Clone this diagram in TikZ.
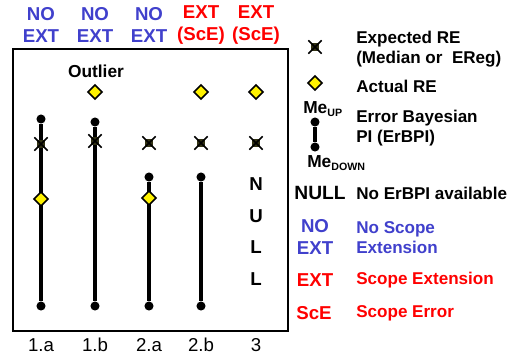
\documentclass[tikz,border=0pt]{standalone}
\usepackage{fontspec}
\setmainfont{Liberation Sans}
\usetikzlibrary{shapes.geometric}
\definecolor{extblue}{RGB}{64,64,204}
\definecolor{extred}{RGB}{255,0,0}
\definecolor{markfill}{RGB}{50,50,20}

\begin{document}
\begin{tikzpicture}[
    x=0.75pt,y=-0.75pt,
    dot/.style={circle,fill=black,inner sep=0pt,minimum size=6.8pt},
    actual/.style={diamond,draw,line width=1.2pt,fill=yellow,inner sep=0pt,minimum size=11pt},
    expected/.style={rectangle,fill=markfill,inner sep=0pt,minimum size=6.5pt,
      path picture={\fill[yellow] (path picture bounding box.center) circle (0.8pt);}},
    head/.style={font=\fontsize{14}{16.5}\selectfont\bfseries,align=center},
    lbl/.style={font=\fontsize{14}{16}\selectfont},
    txt/.style={font=\fontsize{12.8}{15}\selectfont\bfseries,align=left,anchor=west,inner sep=0pt},
    me/.style={font=\fontsize{13}{15}\selectfont\bfseries,anchor=west,inner sep=0pt},
    bar/.style={line width=2.3pt}]
  \useasboundingbox (0,0) rectangle (516,355);
  \draw[line width=1.1pt] (13,49) rectangle (288,331);
  % column headers
  \node[head,text=extblue] (h1a) at (41,25) {NO\\EXT};
  \node[head,text=extblue] (h1b) at (95,25) {NO\\EXT};
  \node[head,text=extblue] (h2a) at (149,25) {NO\\EXT};
  \node[head,text=extred] (h2b) at (201,25) {EXT\\(ScE)};
  \node[head,text=extred] (h3) at (256,25) {EXT\\(ScE)};
  % error bars
  \node[dot] (up1a) at (41,119) {};
  \node[dot] (dn1a) at (41,306) {};
  \node[dot] (up1b) at (95,122) {};
  \node[dot] (dn1b) at (95,306) {};
  \node[dot] (up2a) at (149,177) {};
  \node[dot] (dn2a) at (149,306) {};
  \node[dot] (up2b) at (201,177) {};
  \node[dot] (dn2b) at (201,306) {};
  \draw[bar] (up1a) -- (dn1a);
  \draw[bar] (up1b) -- (dn1b);
  \draw[bar] (up2a) -- (dn2a);
  \draw[bar] (up2b) -- (dn2b);
  \node[font=\fontsize{14}{23.75}\selectfont\bfseries,align=center] (null3) at (256,231.5) {N\\U\\L\\L};
  % expected and actual RE
  \node[expected] (e1a) at (41,144) {};
  \node[expected] (e1b) at (95,141) {};
  \node[expected] (e2a) at (149,143) {};
  \node[expected] (e2b) at (201,143) {};
  \node[expected] (e3) at (256,143) {};
  \node[actual] (a1a) at (41,199) {};
  \node[actual] (a1b) at (95,92) {};
  \node[actual] (a2a) at (149,198) {};
  \node[actual] (a2b) at (201,92) {};
  \node[actual] (a3) at (256,92) {};
  \node[font=\fontsize{13}{15}\selectfont\bfseries] (outl) at (96,71) {Outlier};
  % case labels
  \node[lbl] (l1a) at (41,345) {1.a};
  \node[lbl] (l1b) at (95,345) {1.b};
  \node[lbl] (l2a) at (149,345) {2.a};
  \node[lbl] (l2b) at (201,345) {2.b};
  \node[lbl] (l3) at (256,345) {3};
  % legend
  \node[expected] (eleg) at (315,47) {};
  \node[txt] (texp) at (356,49) {Expected RE\\(Median or~~EReg)};
  \node[actual] (aleg) at (315,83) {};
  \node[txt] (tact) at (356,86) {Actual RE};
  \node[me] (meup) at (303,109) {Me{\fontsize{8}{8}\selectfont\raisebox{-2.5pt}{UP}}};
  \node[dot] (uleg) at (315,122) {};
  \node[dot] (dleg) at (315,147) {};
  \draw[bar] (uleg) -- (dleg);
  \node[me] (medn) at (307,163) {Me{\fontsize{8}{8}\selectfont\raisebox{-2.5pt}{DOWN}}};
  \node[txt] (tbpi) at (356,128.5) {Error Bayesian\\PI (ErBPI)};
  \node[font=\fontsize{14.4}{16}\selectfont\bfseries] (nleg) at (320,193) {NULL};
  \node[txt] (tnull) at (356,193) {No ErBPI available};
  \node[head,text=extblue] (noleg) at (315,237) {NO\\EXT};
  \node[txt,text=extblue] (tno) at (356,238) {No Scope\\Extension};
  \node[head,text=extred] (extleg) at (315,280) {EXT};
  \node[txt,text=extred] (text) at (356,280) {Scope Extension};
  \node[head,text=extred] (sceleg) at (314,313) {ScE};
  \node[txt,text=extred] (tsce) at (356,313) {Scope Error};
  % crosses of the expected RE marks
  \foreach \n in {e1a,e1b,e2a,e2b,e3,eleg}
    \draw[line width=1.1pt] ([shift={(-5pt,-5pt)}]\n.center) -- ([shift={(5pt,5pt)}]\n.center)
      ([shift={(-5pt,5pt)}]\n.center) -- ([shift={(5pt,-5pt)}]\n.center);
\end{tikzpicture}
\end{document}
